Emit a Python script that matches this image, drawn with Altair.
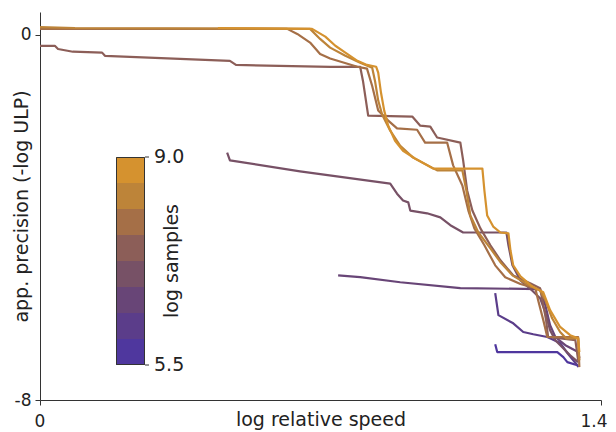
import altair as alt
import pandas as pd

# log samples per curve
log_samples = [5.5, 6.0, 6.5, 7.0, 7.5, 8.0, 8.5, 9.0]

# colorbar bands (bottom -> top): lower edge, upper edge, colour
band_lo = [5.5, 5.9375, 6.375, 6.8125, 7.25, 7.6875, 8.125, 8.5625]
band_hi = [5.9375, 6.375, 6.8125, 7.25, 7.6875, 8.125, 8.5625, 9.0]
band_colors = ["#4f379e", "#5b3d8a", "#684577", "#775166",
               "#8c5e58", "#a56f47", "#bd8439", "#d5922f"]

# colorbar tick values and their labels
cbar_ticks = [9.0, 5.5]
cbar_labels = ["9.0", "5.5"]

x_55 = [1.136, 1.141, 1.291, 1.306, 1.316, 1.341, 1.343]
y_55 = [-6.78, -6.95, -6.95, -7.06, -7.17, -7.24, -7.28]

x_60 = [1.136, 1.144, 1.181, 1.206, 1.231, 1.266, 1.298, 1.316, 1.341]
y_60 = [-5.66, -6.14, -6.32, -6.51, -6.56, -6.62, -6.75, -6.97, -7.24]

x_65 = [0.744, 0.799, 0.899, 1.049, 1.248, 1.261, 1.273, 1.286, 1.311, 1.343, 1.346]
y_65 = [-5.27, -5.31, -5.42, -5.55, -5.57, -5.92, -6.36, -6.62, -6.80, -6.95, -7.08]

x_70 = [0.467, 0.474, 0.649, 0.874, 0.891, 0.906, 0.919, 0.924, 0.966, 0.999,
        1.024, 1.056, 1.164, 1.169, 1.179, 1.199, 1.228, 1.248, 1.261, 1.273,
        1.286, 1.323, 1.343]
y_70 = [-2.58, -2.75, -2.99, -3.26, -3.48, -3.63, -3.67, -3.85, -3.91, -4.00,
        -4.17, -4.33, -4.33, -4.61, -5.05, -5.38, -5.60, -5.77, -6.08, -6.47,
        -6.69, -7.02, -7.17]

x_75 = [0.0, 0.037, 0.045, 0.082, 0.155, 0.162, 0.474, 0.489, 0.724, 0.799,
        0.806, 0.819, 0.929, 0.949, 0.974, 0.991, 1.049, 1.056, 1.066, 1.079,
        1.099, 1.124, 1.149, 1.181, 1.223, 1.248, 1.256, 1.263, 1.268, 1.336,
        1.343]
y_75 = [-0.24, -0.24, -0.31, -0.37, -0.39, -0.46, -0.57, -0.66, -0.70, -0.70,
        -1.01, -1.77, -1.79, -1.99, -2.01, -2.25, -2.36, -2.75, -3.41, -3.85,
        -4.24, -4.61, -4.94, -5.27, -5.44, -5.55, -5.92, -6.25, -6.62, -6.69,
        -7.13]

x_80 = [0.0, 0.617, 0.642, 0.674, 0.699, 0.724, 0.792, 0.816, 0.829, 0.844,
        0.869, 0.891, 0.941, 0.961, 1.016, 1.031, 1.054, 1.069, 1.084, 1.109,
        1.136, 1.161, 1.199, 1.236, 1.243, 1.256, 1.266, 1.343, 1.346]
y_80 = [0.13, 0.13, 0.02, -0.17, -0.42, -0.52, -0.70, -0.74, -1.12, -1.66,
        -1.88, -2.05, -2.08, -2.36, -2.36, -2.86, -3.30, -3.85, -4.24, -4.61,
        -5.05, -5.31, -5.46, -5.55, -5.81, -6.25, -6.62, -6.62, -7.28]

x_85 = [0.0, 0.087, 0.674, 0.699, 0.724, 0.762, 0.799, 0.829, 0.836, 0.844,
        0.854, 0.874, 0.899, 0.931, 0.991, 1.054, 1.064, 1.074, 1.094, 1.124,
        1.149, 1.179, 1.211, 1.248, 1.261, 1.278, 1.298, 1.313, 1.343, 1.346]
y_85 = [0.17, 0.15, 0.13, -0.09, -0.28, -0.46, -0.61, -0.72, -1.01, -1.44,
        -1.75, -2.10, -2.43, -2.69, -2.97, -2.97, -3.41, -3.96, -4.33, -4.68,
        -4.98, -5.27, -5.44, -5.60, -5.81, -6.21, -6.51, -6.65, -6.65, -7.13]

x_90 = [0.444, 0.679, 0.712, 0.737, 0.762, 0.792, 0.816, 0.839, 0.844, 0.851,
        0.859, 0.869, 0.886, 0.906, 0.936, 0.981, 1.104, 1.109, 1.116, 1.131,
        1.149, 1.169, 1.174, 1.181, 1.199, 1.228, 1.256, 1.273, 1.298, 1.323,
        1.343, 1.346]
y_90 = [0.15, 0.13, -0.04, -0.24, -0.39, -0.57, -0.66, -0.70, -0.83, -1.27,
        -1.66, -1.99, -2.32, -2.54, -2.71, -2.93, -2.93, -3.41, -3.96, -4.20,
        -4.33, -4.35, -4.72, -5.05, -5.29, -5.51, -5.64, -6.03, -6.40, -6.58,
        -6.65, -6.95]

series = [(x_55, y_55), (x_60, y_60), (x_65, y_65), (x_70, y_70),
          (x_75, y_75), (x_80, y_80), (x_85, y_85), (x_90, y_90)]

rows = []
for s, (xs, ys) in zip(log_samples, series):
    assert len(xs) == len(ys), s
    for i, (xv, yv) in enumerate(zip(xs, ys)):
        rows.append({"x": xv, "y": yv, "s": s, "i": i})
df = pd.DataFrame(rows)

FONT = "DejaVu Sans"
TXT = "#222222"
EDGE = "#333333"

# colorbar geometry (pixels, relative to the plot area)
CB_X, CB_Y, CB_W, CB_LEN = 76, 145, 29, 208
cb_scale = alt.Scale(domain=[5.5, 9.0], range=[CB_Y + CB_LEN, CB_Y], nice=False, zero=False)

lines = alt.Chart(df).mark_line(strokeWidth=2.2, strokeJoin="round").encode(
    x=alt.X("x:Q",
            scale=alt.Scale(domain=[0, 1.4], nice=False, zero=False),
            axis=alt.Axis(values=[0, 1.4], title="log relative speed",
                          labelExpr="'' + datum.value", labelPadding=8,
                          labelFlush=True, labelFlushOffset=6,
                          titleY=19, titleBaseline="middle")),
    y=alt.Y("y:Q",
            scale=alt.Scale(domain=[-8, 0.5], nice=False, zero=False),
            axis=alt.Axis(values=[-8, 0], title="app. precision (-log ULP)",
                          labelExpr="'' + datum.value",
                          titleX=-19, titleBaseline="middle")),
    color=alt.Color("s:Q",
                    scale=alt.Scale(type="threshold", domain=band_lo[1:], range=band_colors),
                    legend=None),
    detail="s:N",
    order="i:Q",
)

bands_df = pd.DataFrame({"lo": band_lo, "hi": band_hi, "c": band_colors})
cb_bands = alt.Chart(bands_df).mark_rect().encode(
    x=alt.value(CB_X), x2=alt.value(CB_X + CB_W),
    y=alt.Y("lo:Q", scale=cb_scale, axis=None), y2="hi:Q",
    fill=alt.Fill("c:N", scale=None),
)

cb_outline = alt.Chart(pd.DataFrame({"k": [0]})).mark_rect(
    fillOpacity=0, stroke=EDGE, strokeWidth=1
).encode(x=alt.value(CB_X + 0.5), x2=alt.value(CB_X + CB_W - 0.5),
         y=alt.value(CB_Y + 0.5), y2=alt.value(CB_Y + CB_LEN - 0.5))

cb_df = pd.DataFrame({"v": cbar_ticks, "t": cbar_labels})

cb_ticks = alt.Chart(cb_df).mark_rule(color=EDGE, strokeWidth=1).encode(
    x=alt.value(CB_X + CB_W), x2=alt.value(CB_X + CB_W + 4),
    y=alt.Y("v:Q", scale=cb_scale, axis=None))

cb_text = alt.Chart(cb_df).mark_text(
    align="left", baseline="middle", fontSize=19, font=FONT, color=TXT
).encode(x=alt.value(CB_X + CB_W + 9),
         y=alt.Y("v:Q", scale=cb_scale, axis=None), text="t:N")

cb_title = alt.Chart(pd.DataFrame({"t": ["log samples"]})).mark_text(
    angle=270, fontSize=19, font=FONT, color=TXT, align="center", baseline="middle"
).encode(text="t:N", x=alt.value(131.5), y=alt.value(CB_Y + CB_LEN / 2))

chart = alt.layer(lines, cb_bands, cb_outline, cb_ticks, cb_text, cb_title).resolve_scale(
    y="independent"
).properties(
    width=561, height=388,
    autosize=alt.AutoSizeParams(type="none"),
    padding={"left": 32, "top": 4, "right": 7, "bottom": 32},
).configure_view(stroke=None).configure_axis(
    grid=False, domainColor=EDGE, tickColor=EDGE, tickSize=5,
    labelFont=FONT, labelFontSize=17, labelColor=TXT, labelPadding=4,
    titleFont=FONT, titleFontSize=19, titleColor=TXT, titleFontWeight="normal",
)

chart.save("out.html", embed_options={"renderer": "svg", "actions": False})
